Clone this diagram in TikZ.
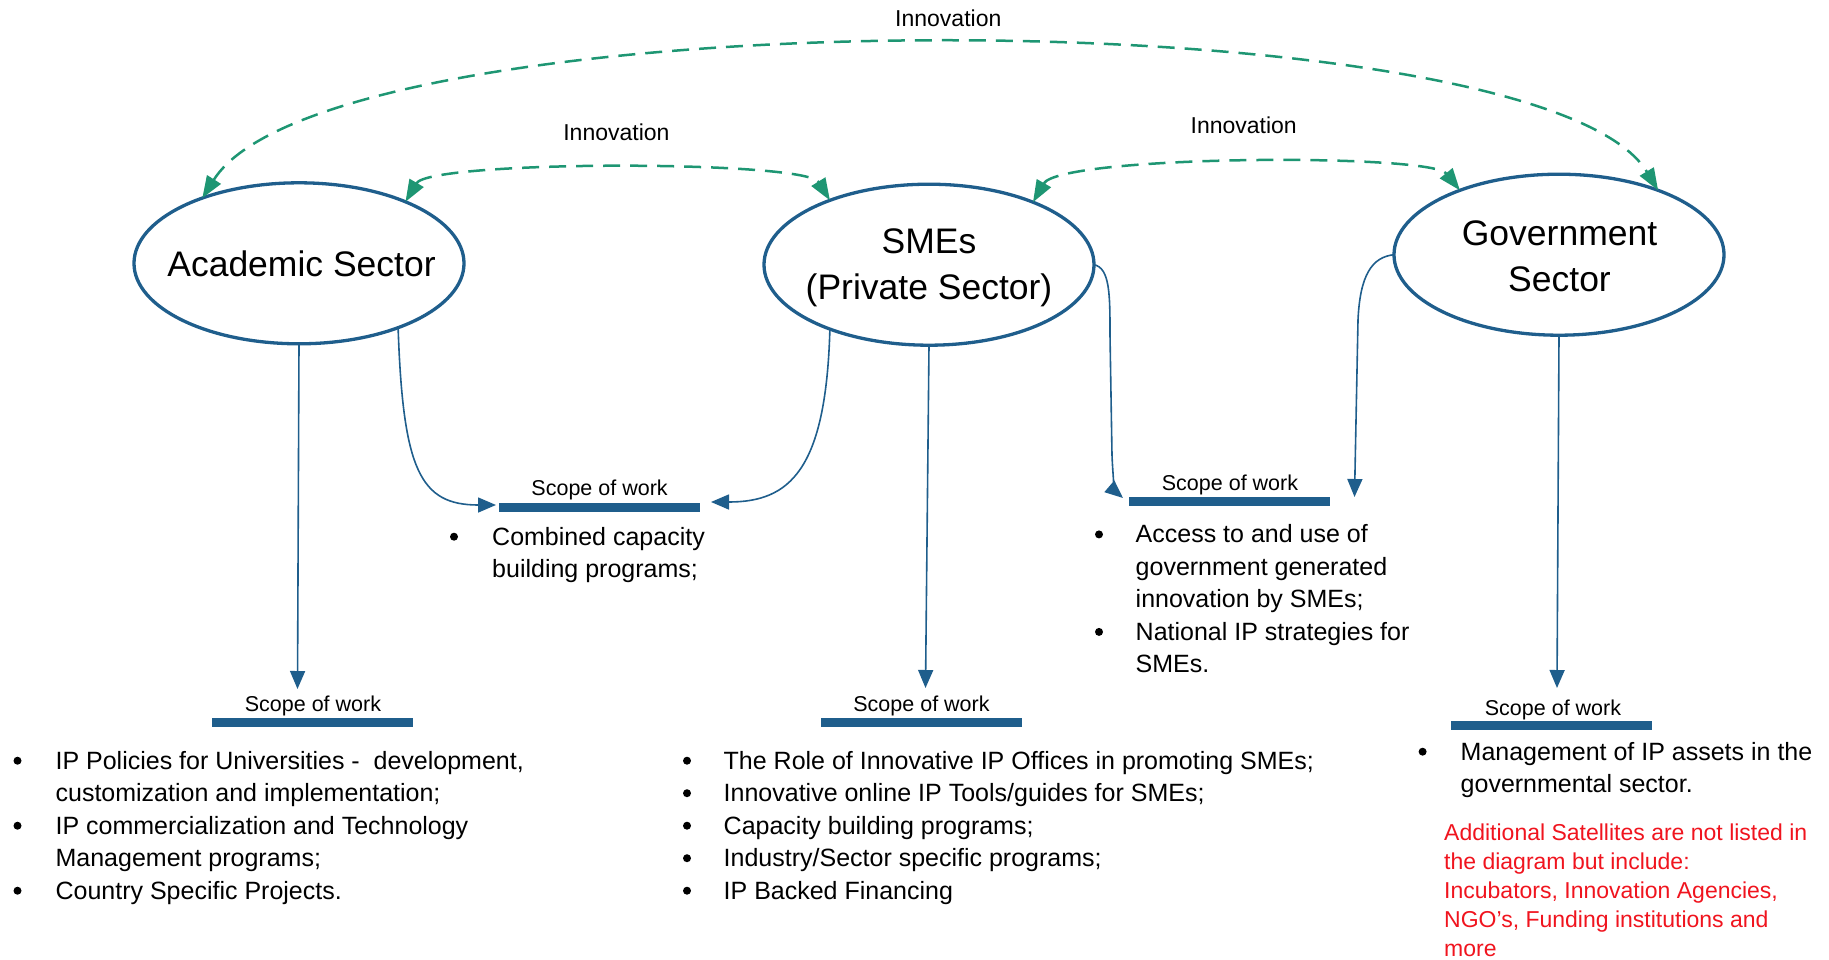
\documentclass[tikz,border=0pt]{standalone}
\usepackage{fontspec}
\setmainfont{Liberation Sans}
\usetikzlibrary{arrows.meta,shapes.geometric}
\definecolor{secblue}{RGB}{31,94,140}
\definecolor{innovgreen}{RGB}{30,150,115}
\definecolor{notered}{RGB}{240,20,30}
\newcommand\txtlines[2][l]{\begin{tabular}[t]{@{}#1@{}}#2\end{tabular}}
\begin{document}
\begin{tikzpicture}[x=1pt,y=-1pt,
  sector/.style={ellipse, draw=secblue, line width=3.3pt, minimum width=330pt, minimum height=161pt, inner sep=0pt, outer sep=0pt},
  sectortext/.style={anchor=base, inner sep=0pt, font=\fontsize{35.5}{46}\selectfont},
  conn/.style={draw=secblue, line width=1.6pt, -{Triangle[length=18pt,width=15pt]}},
  innov/.style={draw=innovgreen, line width=2.5pt, dash pattern=on 17pt off 10pt, {Triangle[length=22pt,width=16pt]}-{Triangle[length=22pt,width=16pt]}},
  innovlbl/.style={anchor=base, inner sep=0pt, font=\fontsize{23}{27}\selectfont},
  scopebar/.style={rectangle, fill=secblue, minimum width=201pt, minimum height=9pt, inner sep=0pt},
  scopelbl/.style={anchor=base, inner sep=0pt, font=\fontsize{21.5}{25}\selectfont},
  bul/.style={circle, fill=black, minimum size=8pt, inner sep=0pt, yshift=8.3pt},
  item/.style={anchor=base west, inner sep=0pt, font=\fontsize{25}{32.5}\selectfont},
  note/.style={anchor=base west, inner sep=0pt, text=notered, font=\fontsize{23}{29}\selectfont}
]
\useasboundingbox (0,0) rectangle (1829,959);

% sectors
\node[sector] (acad) at (299,263.3) {};
\node[sector] (smes) at (929,264.7) {};
\node[sector] (gov) at (1559,254.7) {};
\node[sectortext] (acadT) at (301.5,276.7) {Academic Sector};
\node[sectortext] (smesT) at (929,253.3) {\txtlines[c]{SMEs\\(Private Sector)}};
\node[sectortext] (govT) at (1559.5,245) {\txtlines[c]{Government\\Sector}};

% innovation links
\draw[innov] (acad.146) .. controls (330,-5) and (1540,-5) .. (gov.33);
\draw[innov] (acad.30) .. controls (430,160) and (805,160) .. (smes.147);
\draw[innov] (smes.31) .. controls (1060,155) and (1430,153) .. (gov.147);
\node[innovlbl] (inn1) at (948.3,26.5) {Innovation};
\node[innovlbl] (inn2) at (616.4,140) {Innovation};
\node[innovlbl] (inn3) at (1243.7,133.3) {Innovation};

% scope bars and labels
\node[scopebar] (bar1) at (312.5,722) {};
\node[scopelbl] (lbl1) at (313,711.7) {Scope of work};
\node[scopebar] (bar2) at (599,507) {};
\node[scopelbl] (lbl2) at (599.6,495) {Scope of work};
\node[scopebar] (bar3) at (921.5,722) {};
\node[scopelbl] (lbl3) at (921.5,711.7) {Scope of work};
\node[scopebar] (bar4) at (1229,501.5) {};
\node[scopelbl] (lbl4) at (1230,490) {Scope of work};
\node[scopebar] (bar5) at (1551.5,725) {};
\node[scopelbl] (lbl5) at (1553,715) {Scope of work};

% arrow tips
\coordinate (tA) at (297.5,689);
\coordinate (tB) at (496,505);
\coordinate (tC) at (711,502);
\coordinate (tD) at (925.5,688);
\coordinate (tE) at (1123,498);
\coordinate (tF) at (1354.5,497);
\coordinate (tG) at (1557,688);

% connectors
\draw[conn] (acad.south) -- (tA);
\draw[conn] (acad.-33) .. controls (403,470) and (420,505) .. (tB);
\draw[conn] (smes.-147) .. controls (826,470) and (790,502) .. (tC);
\draw[conn] (smes.south) -- (tD);
\draw[conn] (smes.east) .. controls (1110,268) and (1110,295) .. (1110,335) -- (1112,455) .. controls (1113,482) and (1116,492) .. (tE);
\draw[conn] (gov.west) .. controls (1372,257) and (1360,275) .. (1358,320) -- (tF);
\draw[conn] (gov.south) -- (tG);

% mid-left list
\node[bul] (m1b) at (454,545) {};
\node[item] (m1) at (492,545) {\txtlines{Combined capacity\\building programs;}};

% mid-right list
\node[bul] (r1b) at (1099,542.7) {};
\node[item] (r1) at (1135.5,542.7) {\txtlines{Access to and use of\\government generated\\innovation by SMEs;}};
\node[bul] (r2b) at (1099,640.2) {};
\node[item] (r2) at (1135.5,640.2) {\txtlines{National IP strategies for\\SMEs.}};

% bottom-left list
\node[bul] (a1b) at (17.5,769) {};
\node[item] (a1) at (55.4,769) {\txtlines{IP Policies for Universities -\ \ development,\\customization and implementation;}};
\node[bul] (a2b) at (17.5,834) {};
\node[item] (a2) at (55.4,834) {\txtlines{IP commercialization and Technology\\Management programs;}};
\node[bul] (a3b) at (17.5,899) {};
\node[item] (a3) at (55.4,899) {Country Specific Projects.};

% bottom-middle list
\node[bul] (s1b) at (687,769) {};
\node[item] (s1) at (723.5,769) {The Role of Innovative IP Offices in promoting SMEs;};
\node[bul] (s2b) at (687,801.5) {};
\node[item] (s2) at (723.5,801.5) {Innovative online IP Tools/guides for SMEs;};
\node[bul] (s3b) at (687,834) {};
\node[item] (s3) at (723.5,834) {Capacity building programs;};
\node[bul] (s4b) at (687,866.5) {};
\node[item] (s4) at (723.5,866.5) {Industry/Sector specific programs;};
\node[bul] (s5b) at (687,899) {};
\node[item] (s5) at (723.5,899) {IP Backed Financing};

% bottom-right list
\node[bul] (g1b) at (1422.6,760) {};
\node[item] (g1) at (1460.5,760) {\txtlines{Management of IP assets in the\\governmental sector.}};

% note
\node[note] (nt) at (1444,840.5) {\txtlines{Additional Satellites are not listed in\\the diagram but include:\\Incubators, Innovation Agencies,\\NGO’s, Funding institutions and\\more}};
\end{tikzpicture}
\end{document}
